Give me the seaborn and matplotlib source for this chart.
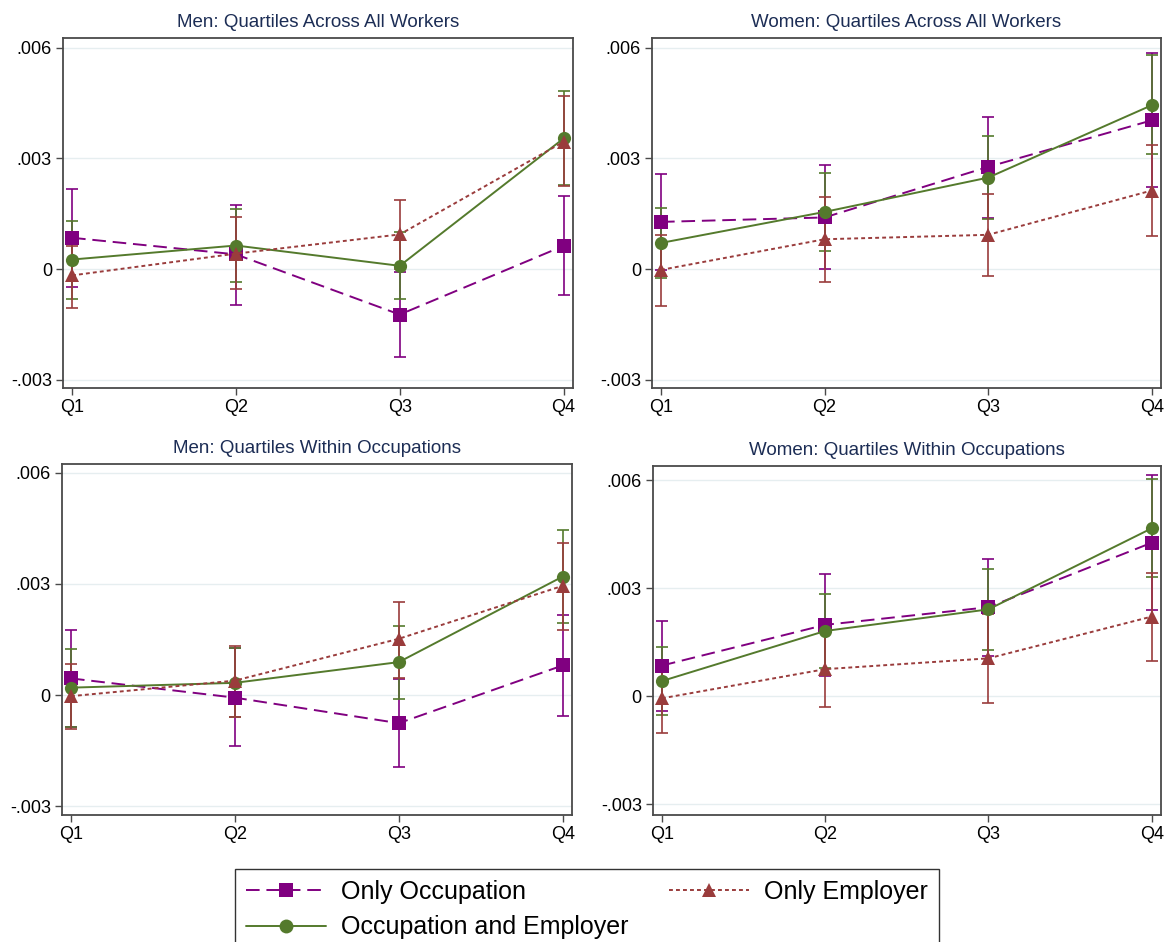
import numpy as np
import pandas as pd
import seaborn as sns
import matplotlib
matplotlib.use("Agg")
import matplotlib.pyplot as plt
from matplotlib.lines import Line2D

# ---------------------------------------------------------------
# Estimates and 95% confidence bounds by wage quartile
# ---------------------------------------------------------------
quartiles = ["Q1", "Q2", "Q3", "Q4"]
series_names = ["Only Occupation", "Occupation and Employer", "Only Employer"]
panel_titles = [
    "Men: Quartiles Across All Workers",
    "Women: Quartiles Across All Workers",
    "Men: Quartiles Within Occupations",
    "Women: Quartiles Within Occupations",
]

# Men: quartiles across all workers
men_all_occ = [0.00085, 0.00040, -0.00123, 0.00063]
men_all_occ_lo = [-0.00048, -0.00096, -0.00238, -0.00070]
men_all_occ_hi = [0.00218, 0.00175, -0.00008, 0.00198]
men_all_both = [0.00026, 0.00064, 0.00009, 0.00354]
men_all_both_lo = [-0.00080, -0.00034, -0.00082, 0.00228]
men_all_both_hi = [0.00130, 0.00163, 0.00100, 0.00482]
men_all_emp = [-0.00017, 0.00042, 0.00094, 0.00345]
men_all_emp_lo = [-0.00104, -0.00053, 0.00001, 0.00225]
men_all_emp_hi = [0.00063, 0.00141, 0.00187, 0.00469]

# Women: quartiles across all workers
women_all_occ = [0.00128, 0.00140, 0.00277, 0.00403]
women_all_occ_lo = [-0.00001, 0.00000, 0.00138, 0.00222]
women_all_occ_hi = [0.00257, 0.00281, 0.00412, 0.00585]
women_all_both = [0.00071, 0.00155, 0.00248, 0.00444]
women_all_both_lo = [-0.00024, 0.00048, 0.00136, 0.00312]
women_all_both_hi = [0.00166, 0.00260, 0.00360, 0.00579]
women_all_emp = [-0.00002, 0.00081, 0.00093, 0.00213]
women_all_emp_lo = [-0.00099, -0.00035, -0.00018, 0.00090]
women_all_emp_hi = [0.00093, 0.00195, 0.00203, 0.00335]

# Men: quartiles within occupations
men_within_occ = [0.00045, -0.00007, -0.00076, 0.00080]
men_within_occ_lo = [-0.00087, -0.00137, -0.00194, -0.00057]
men_within_occ_hi = [0.00177, 0.00128, 0.00043, 0.00217]
men_within_both = [0.00020, 0.00033, 0.00089, 0.00320]
men_within_both_lo = [-0.00085, -0.00058, -0.00011, 0.00195]
men_within_both_hi = [0.00124, 0.00126, 0.00187, 0.00446]
men_within_emp = [-0.00003, 0.00039, 0.00152, 0.00295]
men_within_emp_lo = [-0.00091, -0.00060, 0.00047, 0.00175]
men_within_emp_hi = [0.00083, 0.00132, 0.00251, 0.00410]

# Women: quartiles within occupations
women_within_occ = [0.00085, 0.00198, 0.00247, 0.00426]
women_within_occ_lo = [-0.00040, 0.00056, 0.00112, 0.00238]
women_within_occ_hi = [0.00210, 0.00340, 0.00382, 0.00614]
women_within_both = [0.00042, 0.00181, 0.00241, 0.00466]
women_within_both_lo = [-0.00051, 0.00077, 0.00127, 0.00330]
women_within_both_hi = [0.00136, 0.00285, 0.00354, 0.00603]
women_within_emp = [-0.00006, 0.00075, 0.00105, 0.00221]
women_within_emp_lo = [-0.00102, -0.00030, -0.00018, 0.00098]
women_within_emp_hi = [0.00090, 0.00181, 0.00229, 0.00343]

y_ticks = [-0.003, 0.0, 0.003, 0.006]
y_tick_labels = ["-.003", "0", ".003", ".006"]

panels = [
    [(men_all_occ, men_all_occ_lo, men_all_occ_hi),
     (men_all_both, men_all_both_lo, men_all_both_hi),
     (men_all_emp, men_all_emp_lo, men_all_emp_hi)],
    [(women_all_occ, women_all_occ_lo, women_all_occ_hi),
     (women_all_both, women_all_both_lo, women_all_both_hi),
     (women_all_emp, women_all_emp_lo, women_all_emp_hi)],
    [(men_within_occ, men_within_occ_lo, men_within_occ_hi),
     (men_within_both, men_within_both_lo, men_within_both_hi),
     (men_within_emp, men_within_emp_lo, men_within_emp_hi)],
    [(women_within_occ, women_within_occ_lo, women_within_occ_hi),
     (women_within_both, women_within_both_lo, women_within_both_hi),
     (women_within_emp, women_within_emp_lo, women_within_emp_hi)],
]

# Long-form table for seaborn
rows = []
for p, title in enumerate(panel_titles):
    for s, name in enumerate(series_names):
        est, lo, hi = panels[p][s]
        for q in range(len(quartiles)):
            rows.append(dict(panel=title, series=name, pos=q,
                             est=est[q], lo=lo[q], hi=hi[q]))
df = pd.DataFrame(rows)

# ---------------------------------------------------------------
# Styling
# ---------------------------------------------------------------
sns.set_theme(style="white")
plt.rcParams["font.family"] = ["Liberation Sans", "DejaVu Sans"]

palette = {
    "Only Occupation": "#800080",
    "Occupation and Employer": "#547a2c",
    "Only Employer": "#9a3c3c",
}
markers = {
    "Only Occupation": "s",
    "Occupation and Employer": "o",
    "Only Employer": "^",
}
dashes = {
    "Only Occupation": (7, 3.5),
    "Occupation and Employer": "",
    "Only Employer": (2, 1.6),
}
title_color = "#1c2d55"
frame_color = "#4a4a4a"
grid_color = "#e6eef0"

fig = plt.figure(figsize=(11.65, 9.42), dpi=100)
fig.patch.set_facecolor("white")

# [left, bottom, width, height] of each plot region
positions = [
    (0.0541, 0.5881, 0.4377, 0.3719),
    (0.5597, 0.5881, 0.4369, 0.3719),
    (0.0532, 0.1348, 0.4378, 0.3726),
    (0.5605, 0.1348, 0.4361, 0.3705),
]
y_limits = [
    (-0.00322, 0.00627),
    (-0.00322, 0.00627),
    (-0.00324, 0.00624),
    (-0.00330, 0.00639),
]

for p, title in enumerate(panel_titles):
    ax = fig.add_axes(positions[p])
    sub = df[df["panel"] == title]

    for h in y_ticks:
        ax.axhline(h, color=grid_color, lw=1.0, zorder=0)

    for name in series_names:
        d = sub[sub["series"] == name]
        ax.errorbar(d["pos"], d["est"],
                    yerr=[d["est"] - d["lo"], d["hi"] - d["est"]],
                    fmt="none", ecolor=palette[name], elinewidth=1.2,
                    capsize=4, capthick=1.2, zorder=2)

    sns.lineplot(data=sub, x="pos", y="est", hue="series", style="series",
                 hue_order=series_names, style_order=series_names,
                 palette=palette, markers=markers, dashes=dashes,
                 markersize=9.5, markeredgewidth=0, linewidth=1.4,
                 legend=False, ax=ax, zorder=3, errorbar=None)

    ax.set_xlim(-0.055, 3.057)
    ax.set_ylim(*y_limits[p])
    ax.set_xticks(range(len(quartiles)))
    ax.set_xticklabels(quartiles)
    ax.set_yticks(y_ticks)
    ax.set_yticklabels(y_tick_labels)
    ax.set_xlabel("")
    ax.set_ylabel("")
    ax.tick_params(axis="both", which="major", direction="out", length=5,
                   width=1.0, color=frame_color, labelsize=13,
                   labelcolor="black", pad=3, bottom=True, left=True)
    for sp in ax.spines.values():
        sp.set_visible(True)
        sp.set_color(frame_color)
        sp.set_linewidth(1.3)
    ax.set_title(title, fontsize=13.5, color=title_color, pad=8)

# Shared legend below the panels
handles = [
    Line2D([0], [0], color=palette[n], marker=markers[n], markersize=10,
           markeredgewidth=0, linewidth=1.4,
           linestyle=(0, dashes[n]) if dashes[n] else "-")
    for n in series_names
]
leg = fig.legend(handles, series_names, loc="upper center",
                 bbox_to_anchor=(0.504, 0.0775), ncol=2, fontsize=18,
                 frameon=True, fancybox=False, edgecolor="black",
                 handlelength=3.2, handletextpad=0.6, columnspacing=1.6,
                 labelspacing=0.45, borderpad=0.45, borderaxespad=0.0,
                 labelcolor="black")
leg.get_frame().set_linewidth(1.0)

fig.savefig("out.png", dpi=100, facecolor="white")
